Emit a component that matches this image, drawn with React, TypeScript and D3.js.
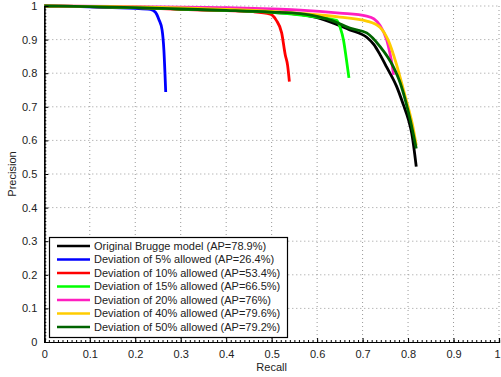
import React, { useEffect, useRef } from 'react';
import * as d3 from 'd3';

// [recall, precision] pairs
const original = [[0, 1], [0.1, 0.998], [0.2, 0.995], [0.3, 0.991], [0.4, 0.987], [0.5, 0.981], [0.563, 0.975], [0.6, 0.965], [0.636, 0.949], [0.672, 0.929], [0.709, 0.907], [0.725, 0.885], [0.738, 0.856], [0.753, 0.818], [0.775, 0.76], [0.79, 0.705], [0.801, 0.661], [0.808, 0.622], [0.818, 0.522]];
const dev5 = [[0.08, 0.998], [0.15, 0.995], [0.2, 0.993], [0.233, 0.99], [0.244, 0.982], [0.252, 0.96], [0.259, 0.929], [0.263, 0.869], [0.267, 0.744]];
const dev10 = [[0, 1], [0.1, 0.998], [0.2, 0.995], [0.3, 0.99], [0.4, 0.986], [0.46, 0.983], [0.497, 0.976], [0.51, 0.958], [0.522, 0.92], [0.53, 0.854], [0.535, 0.824], [0.539, 0.775]];
const dev15 = [[0, 1], [0.1, 0.998], [0.2, 0.995], [0.3, 0.991], [0.4, 0.987], [0.5, 0.981], [0.6, 0.967], [0.643, 0.957], [0.651, 0.935], [0.658, 0.899], [0.664, 0.845], [0.67, 0.786]];
const dev20 = [[0, 1], [0.2, 0.998], [0.4, 0.995], [0.5, 0.991], [0.563, 0.988], [0.65, 0.979], [0.709, 0.97], [0.725, 0.962], [0.738, 0.943], [0.753, 0.899], [0.76, 0.86], [0.765, 0.824], [0.768, 0.795]];
const dev40 = [[0, 1], [0.1, 0.999], [0.2, 0.997], [0.3, 0.994], [0.4, 0.99], [0.5, 0.984], [0.563, 0.978], [0.65, 0.967], [0.709, 0.955], [0.738, 0.937], [0.756, 0.899], [0.775, 0.824], [0.79, 0.75], [0.8, 0.7], [0.81, 0.645], [0.818, 0.585]];
const dev50 = [[0, 1], [0.1, 0.998], [0.2, 0.995], [0.3, 0.991], [0.4, 0.987], [0.5, 0.982], [0.563, 0.977], [0.636, 0.955], [0.672, 0.934], [0.709, 0.92], [0.738, 0.88], [0.768, 0.818], [0.783, 0.77], [0.794, 0.72], [0.805, 0.66], [0.818, 0.576]];

const seriesNames = [
    'Original Brugge model (AP=78.9%)',
    'Deviation of 5% allowed (AP=26.4%)',
    'Deviation of 10% allowed (AP=53.4%)',
    'Deviation of 15% allowed (AP=66.5%)',
    'Deviation of 20% allowed (AP=76%)',
    'Deviation of 40% allowed (AP=79.6%)',
    'Deviation of 50% allowed (AP=79.2%)',
];
const seriesData = [original, dev5, dev10, dev15, dev20, dev40, dev50];
const seriesColors = ['#000000', '#0000ff', '#ff0000', '#00ff00', '#ff1fc0', '#ffcc00', '#006400'];

const ticks = [0, 0.1, 0.2, 0.3, 0.4, 0.5, 0.6, 0.7, 0.8, 0.9, 1];

const App = () => {
    const ref = useRef(null);

    useEffect(() => {
        const width = 501, height = 377;
        const left = 44.3, right = 499, top = 6, bottom = 342;
        const font = '"Liberation Sans", Arial, sans-serif';

        const root = d3.select(ref.current);
        root.selectAll('*').remove();
        const svg = root.attr('width', width).attr('height', height);

        const x = d3.scaleLinear().domain([0, 1]).range([left, right]);
        const y = d3.scaleLinear().domain([0, 1]).range([bottom, top]);

        // dotted grid
        svg.append('g').selectAll('line').data(ticks.slice(1)).enter().append('line')
            .attr('x1', d => x(d)).attr('x2', d => x(d)).attr('y1', top).attr('y2', bottom)
            .attr('stroke', '#999').attr('stroke-width', 1).attr('stroke-dasharray', '1,3');
        svg.append('g').selectAll('line').data(ticks.slice(1)).enter().append('line')
            .attr('x1', left).attr('x2', right).attr('y1', d => y(d)).attr('y2', d => y(d))
            .attr('stroke', '#999').attr('stroke-width', 1).attr('stroke-dasharray', '1,3');

        // curves
        const line = d3.line().x(d => x(d[0])).y(d => y(d[1])).curve(d3.curveMonotoneX);
        seriesData.forEach((s, i) => {
            svg.append('path')
                .datum(s)
                .attr('d', line)
                .attr('fill', 'none')
                .attr('stroke', seriesColors[i])
                .attr('stroke-width', 2.8)
                .attr('stroke-linejoin', 'round');
        });

        // axes (ticks pointing inward, minor ticks every 0.01)
        const minor = d3.range(0, 101).map(d => d / 100);
        const xAxis = svg.append('g').attr('transform', `translate(0,${bottom})`);
        xAxis.call(d3.axisBottom(x).tickValues(minor).tickSize(-2).tickFormat(() => ''));
        xAxis.call(g => g.append('g').call(d3.axisBottom(x).tickValues(ticks).tickSize(-4).tickPadding(8).tickFormat(d3.format('~g'))));
        xAxis.selectAll('.tick text').filter(d => d === 1).attr('dx', -2);
        const yAxis = svg.append('g').attr('transform', `translate(${left},0)`);
        yAxis.call(d3.axisLeft(y).tickValues(minor).tickSize(-2).tickFormat(() => ''));
        yAxis.call(g => g.append('g').call(d3.axisLeft(y).tickValues(ticks).tickSize(-4).tickPadding(7).tickFormat(d3.format('~g'))));
        svg.selectAll('.domain').attr('stroke', '#000').attr('stroke-width', 1.2);
        svg.selectAll('.tick line').attr('stroke', '#000');
        svg.selectAll('.tick text').attr('font-family', font).attr('font-size', 11).attr('fill', '#222');

        svg.append('text')
            .attr('x', (left + right) / 2).attr('y', 371)
            .attr('text-anchor', 'middle')
            .attr('font-family', font).attr('font-size', 11).attr('fill', '#222')
            .text('Recall');
        svg.append('text')
            .attr('transform', `translate(16,${(top + bottom) / 2}) rotate(-90)`)
            .attr('text-anchor', 'middle')
            .attr('font-family', font).attr('font-size', 11).attr('fill', '#222')
            .text('Precision');

        // legend
        const legend = svg.append('g');
        legend.append('rect')
            .attr('x', 49.5).attr('y', 237.5).attr('width', 238).attr('height', 100)
            .attr('fill', '#fff').attr('stroke', '#000').attr('stroke-width', 1.2);
        seriesNames.forEach((name, i) => {
            const ly = 246 + i * 13.5;
            legend.append('line')
                .attr('x1', 57).attr('x2', 90).attr('y1', ly).attr('y2', ly)
                .attr('stroke', seriesColors[i]).attr('stroke-width', 2.6);
            legend.append('text')
                .attr('x', 94).attr('y', ly).attr('dy', '0.35em')
                .attr('font-family', font).attr('font-size', 11).attr('fill', '#222')
                .text(name);
        });
    }, []);

    return <svg ref={ref} style={{ position: 'absolute', left: 0, top: 0 }} />;
};

export default App;
